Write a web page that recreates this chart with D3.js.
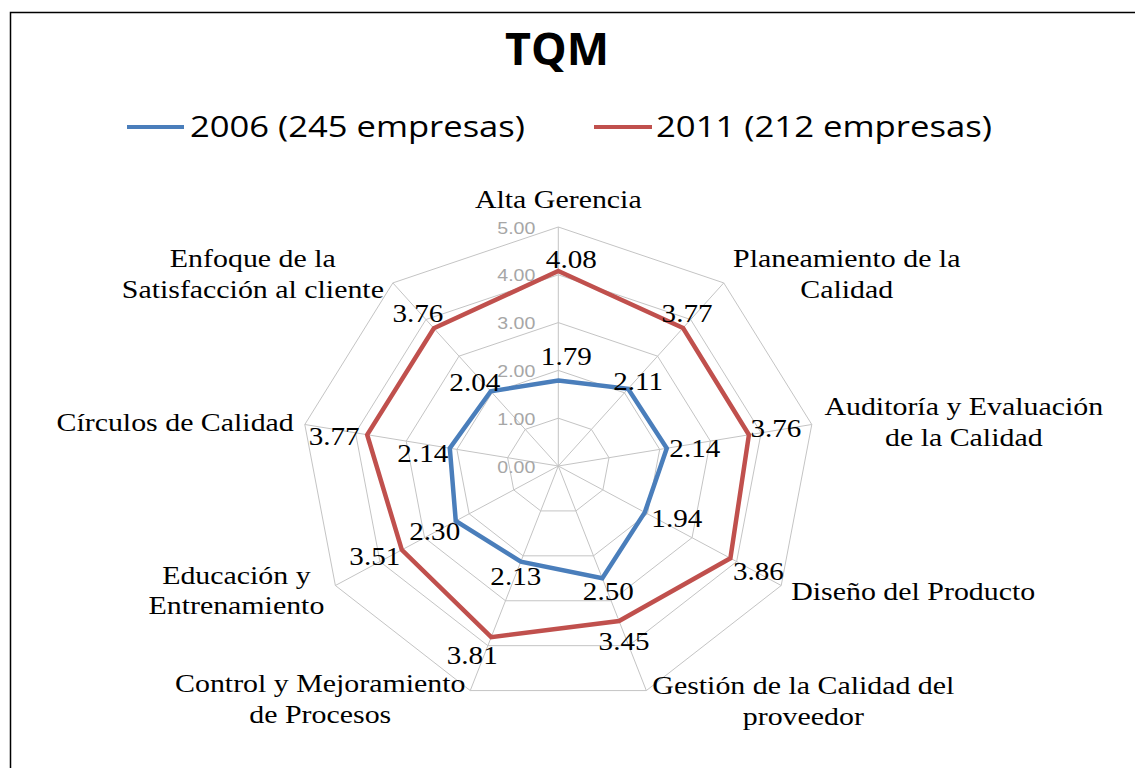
<!DOCTYPE html>
<html>
<head>
<meta charset="utf-8">
<script src="https://cdn.jsdelivr.net/npm/d3@7"></script>
<style>
  body { margin: 0; background: #fff; }
  .catLabel, .valLabel { font-family: "Liberation Serif", "Times New Roman", serif; fill: #000; }
  .tickLabel { font-family: "Liberation Sans", Arial, sans-serif; fill: #a6a6a6; }
</style>
</head>
<body>
<div id="chart"></div>
<script>
// data
var categories = [
  "Alta Gerencia",
  "Planeamiento de la\nCalidad",
  "Auditoría y Evaluación\nde la Calidad",
  "Diseño del Producto",
  "Gestión de la Calidad del\nproveedor",
  "Control y Mejoramiento\nde Procesos",
  "Educación y\nEntrenamiento",
  "Círculos de Calidad",
  "Enfoque de la\nSatisfacción al cliente"
];
var values2006 = [1.79, 2.11, 2.14, 1.94, 2.50, 2.13, 2.30, 2.14, 2.04];
var values2011 = [4.08, 3.77, 3.76, 3.86, 3.45, 3.81, 3.51, 3.77, 3.76];
var seriesNames = ["2006 (245 empresas)", "2011 (212 empresas)"];
var tickValues = [0, 1, 2, 3, 4, 5];
var chartTitle = "TQM";

var svgWidth = 1135;
var svgHeight = 768;
var colors = ["#4a7ebb", "#c0504d"];

// radar geometry (the picture is a bit wider than tall)
var cx = 558.3, cy = 466;
var stretchX = 1.077;
var radius = 239;

var rScale = d3.scaleLinear().domain([0, 5]).range([0, radius]);
var angleScale = d3.scaleLinear().domain([0, categories.length]).range([0, 2 * Math.PI]);

function px(i, v) { return cx + rScale(v) * Math.sin(angleScale(i)) * stretchX; }
function py(i, v) { return cy - rScale(v) * Math.cos(angleScale(i)); }

// label placement: [dx, dy, anchor] from the outer vertex of each axis
var catOffsets = [
  [0, -19, "middle"], [123, -16, "middle"], [152, -9, "middle"],
  [10, 14, "start"], [157, 3, "middle"], [-150, 1, "middle"],
  [-99, -2, "middle"], [-11, 7, "end"], [-140, -16, "middle"]
];
var valOffsets = [
  // 2006
  [[8, -15], [10, 1], [28, 9], [32, 15], [6, 22], [-5, 23], [-21, 19], [-27, 14], [-16, 0]],
  // 2011
  [[13, -3], [4, -6], [27, 2], [28, 22], [5, 29], [-19, 27], [-27, 15], [-33, 10], [-16, -6]]
];

var svg = d3.select("#chart")
  .append("svg")
  .attr("width", svgWidth)
  .attr("height", svgHeight);

// frame
svg.append("path")
  .attr("d", "M10.5,768 V12.5 H1135")
  .attr("fill", "none")
  .attr("stroke", "#000")
  .attr("stroke-width", 1.5);

// title
svg.append("text")
  .attr("x", 557)
  .attr("y", 65)
  .attr("text-anchor", "middle")
  .attr("font-family", "Open Sans, sans-serif")
  .attr("font-weight", "bold")
  .attr("font-size", 44)
  .attr("textLength", 104)
  .attr("lengthAdjust", "spacingAndGlyphs")
  .text(chartTitle);

// legend
var legendItems = [
  { x0: 127, x1: 184, tx: 190, tw: 335 },
  { x0: 594, x1: 652, tx: 656, tw: 336 }
];
legendItems.forEach(function(item, i) {
  svg.append("line")
    .attr("x1", item.x0).attr("x2", item.x1)
    .attr("y1", 127).attr("y2", 127)
    .attr("stroke", colors[i])
    .attr("stroke-width", 4);
  svg.append("text")
    .attr("x", item.tx)
    .attr("y", 137)
    .attr("font-family", "Open Sans, sans-serif")
    .attr("font-size", 30)
    .attr("textLength", item.tw)
    .attr("lengthAdjust", "spacingAndGlyphs")
    .attr("fill", "#000")
    .text(seriesNames[i]);
});

var chartGroup = svg.append("g");

// grid rings
var ringLine = d3.line().curve(d3.curveLinearClosed);
tickValues.filter(function(t) { return t > 0; }).forEach(function(t) {
  chartGroup.append("path")
    .attr("d", ringLine(categories.map(function(c, i) { return [px(i, t), py(i, t)]; })))
    .attr("fill", "none")
    .attr("stroke", "#c4c4c4")
    .attr("stroke-width", 1);
});

// spokes
chartGroup.selectAll(".spoke")
  .data(categories)
  .enter()
  .append("line")
  .attr("class", "spoke")
  .attr("x1", cx).attr("y1", cy)
  .attr("x2", function(d, i) { return px(i, 5); })
  .attr("y2", function(d, i) { return py(i, 5); })
  .attr("stroke", "#c4c4c4")
  .attr("stroke-width", 1);

// tick labels
chartGroup.selectAll(".tickLabel")
  .data(tickValues)
  .enter()
  .append("text")
  .attr("class", "tickLabel")
  .attr("x", cx - 23)
  .attr("y", function(d) { return cy - rScale(d) + 6.5; })
  .attr("text-anchor", "end")
  .attr("font-size", 16)
  .attr("textLength", 38)
  .attr("lengthAdjust", "spacingAndGlyphs")
  .text(function(d) { return d3.format(".2f")(d); });

// series
[values2006, values2011].forEach(function(vals, s) {
  chartGroup.append("path")
    .attr("d", ringLine(vals.map(function(v, i) { return [px(i, v), py(i, v)]; })))
    .attr("fill", "none")
    .attr("stroke", colors[s])
    .attr("stroke-width", 4.5)
    .attr("stroke-linejoin", "miter");
});

// value labels
[values2006, values2011].forEach(function(vals, s) {
  chartGroup.selectAll(".valLabel" + s)
    .data(vals)
    .enter()
    .append("text")
    .attr("class", "valLabel valLabel" + s)
    .attr("font-size", 26)
    .attr("text-anchor", "middle")
    .attr("transform", function(d, i) {
      var o = valOffsets[s][i];
      return "translate(" + (px(i, d) + o[0]) + "," + (py(i, d) + o[1]) + ") scale(1.12,1)";
    })
    .text(function(d) { return d3.format(".2f")(d); });
});

// category labels
categories.forEach(function(cat, i) {
  var o = catOffsets[i];
  var t = chartGroup.append("text")
    .attr("class", "catLabel")
    .attr("font-size", 26)
    .attr("text-anchor", o[2])
    .attr("transform", "translate(" + (px(i, 5) + o[0]) + "," + (py(i, 5) + o[1]) + ") scale(1.15,1)");
  cat.split("\n").forEach(function(line, j) {
    t.append("tspan")
      .attr("x", 0)
      .attr("dy", j === 0 ? 0 : 31)
      .text(line);
  });
});
</script>
</body>
</html>
